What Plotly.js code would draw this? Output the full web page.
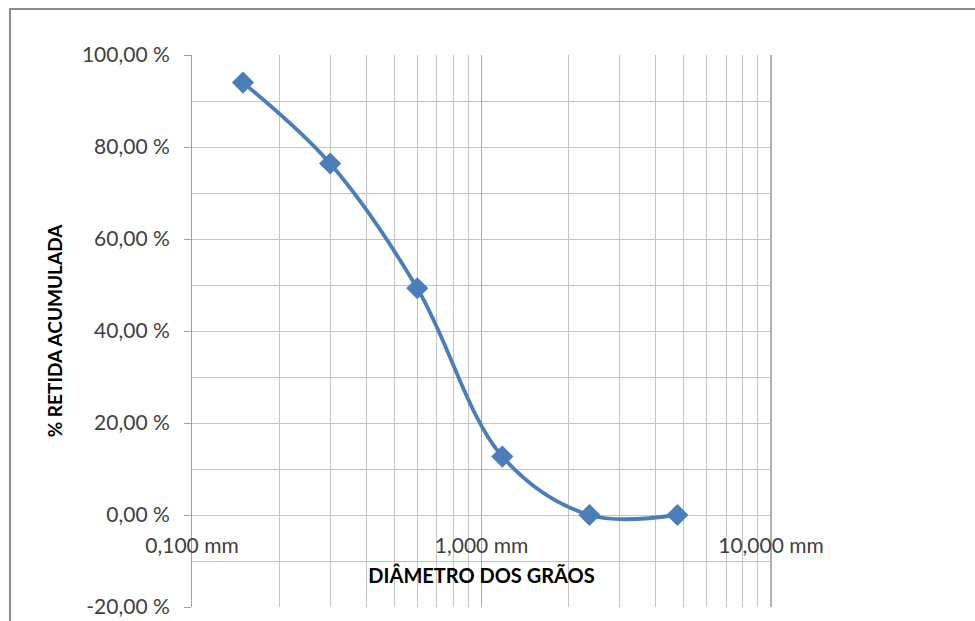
<!DOCTYPE html>
<html>
<head>
<meta charset="utf-8">
<script src="https://cdn.plot.ly/plotly-3.0.1.min.js"></script>
<style>
  html, body { margin: 0; padding: 0; background: #ffffff; }
  #frame { position: absolute; left: 9px; top: 8px; width: 1000px; height: 700px; border: 2px solid #8c8c8c; box-sizing: border-box; }
  #chart { position: absolute; left: 0; top: 0; width: 975px; height: 621px; }
</style>
</head>
<body>
<div id="frame"></div>
<div id="chart"></div>
<script>
// Data
const diameters = [0.15, 0.3, 0.6, 1.18, 2.36, 4.75];          // mm
const retained  = [94.0, 76.4, 49.3, 12.7, 0.0, 0.0];           // % retida acumulada

const xTickVals = [0.1, 1, 10];
const xTickText = ['0,100 mm', '1,000 mm', '10,000 mm'];
const yTickVals = [-20, 0, 20, 40, 60, 80, 100];
const yTickText = ['-20,00 %', '0,00 %', '20,00 %', '40,00 %', '60,00 %', '80,00 %', '100,00 %'];

const xTitle = 'DIÂMETRO DOS GRÃOS';
const yTitle = '% RETIDA ACUMULADA';

const blue = '#4a7ebb';
const grid = '#c4c4c4';
const fontFam = 'Lato, "Open Sans", sans-serif';

const trace = {
  x: diameters,
  y: retained,
  type: 'scatter',
  mode: 'lines+markers',
  line: { color: blue, width: 3.8, shape: 'spline', smoothing: 1 },
  marker: { symbol: 'diamond', size: 17, color: blue },
  hoverinfo: 'skip',
  cliponaxis: false
};

const yMin = -20, yMax = 100;

const layout = {
  width: 975,
  height: 621,
  margin: { l: 192, r: 204, t: 55, b: 14 },
  paper_bgcolor: 'rgba(0,0,0,0)',
  plot_bgcolor: 'rgba(0,0,0,0)',
  showlegend: false,
  font: { family: fontFam, size: 21, color: '#404040' },
  xaxis: {
    type: 'log',
    range: [Math.log10(0.1), Math.log10(10)],
    tickvals: xTickVals,
    ticktext: xTickText,
    ticks: '',
    ticklabelstandoff: 16,
    showgrid: true,
    gridcolor: '#a8a8a8',
    gridwidth: 1,
    zeroline: false,
    showline: false,
    anchor: 'free',
    position: (0 - yMin) / (yMax - yMin),
    tickfont: { family: fontFam, size: 21, color: '#404040' },
    minor: { dtick: 'D1', showgrid: true, gridcolor: grid, gridwidth: 1, ticks: '' },
    title: { text: xTitle, standoff: 12, font: { family: fontFam, size: 20, color: '#000000', weight: 'bold' } }
  },
  yaxis: {
    range: [yMin, yMax],
    tickvals: yTickVals,
    ticktext: yTickText,
    ticks: 'outside',
    ticklen: 7,
    tickcolor: '#a0a0a0',
    ticklabelstandoff: 10,
    showgrid: true,
    gridcolor: grid,
    gridwidth: 1,
    zeroline: false,
    showline: true,
    linecolor: '#a0a0a0',
    linewidth: 1,
    minor: { dtick: 10, showgrid: true, gridcolor: grid, gridwidth: 1, ticks: '' },
    tickfont: { family: fontFam, size: 21, color: '#404040' },
    title: { text: yTitle, standoff: 14, font: { family: fontFam, size: 19, color: '#000000', weight: 'bold' } }
  }
};

// plot's right border line
layout.shapes = [{
  type: 'line', xref: 'paper', yref: 'paper', x0: 1, x1: 1, y0: 0, y1: 1,
  line: { color: '#b0b0b0', width: 2 }, layer: 'below'
}];

Plotly.newPlot('chart', [trace], layout, { displayModeBar: false, staticPlot: true });
</script>
</body>
</html>
